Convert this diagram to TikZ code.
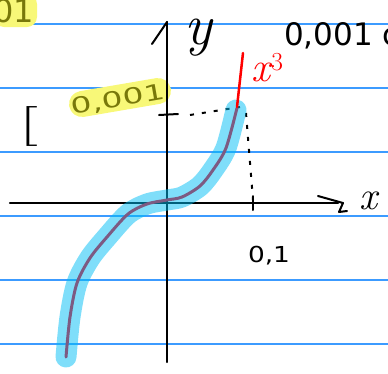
\documentclass[tikz,border=0pt]{standalone}
\usepackage{fontspec}
\newfontfamily\printfont{DejaVu Sans}
\newfontfamily\handfont{DejaVu Sans}
\definecolor{rulecol}{RGB}{60,155,255}
\definecolor{markcol}{RGB}{0,190,245}
\definecolor{penpurple}{RGB}{125,90,130}
\definecolor{hilite}{RGB}{248,248,120}
\definecolor{olivepen}{RGB}{120,120,10}

\begin{document}
\begin{tikzpicture}[x=1pt, y=-1pt,
    rule/.style={rulecol, line width=1.4pt},
    axis/.style={black, line width=2.2pt, line cap=round},
    pen/.style={black, line width=2pt, line cap=round, line join=round},
    guide/.style={black, line width=2pt, dash pattern=on 4pt off 8pt},
    hand/.style={inner sep=0pt, font=\handfont\fontsize{22}{22}\selectfont}]
    \useasboundingbox (0,0) rectangle (388,373);
    \clip (0,0) rectangle (388,373);

    % ruled paper
    \foreach \y in {24,88,...,344}
        \draw[rule] (0,\y) -- (388,\y);

    % highlighted notes
    \fill[hilite, rounded corners=10pt] (-6,-6) rectangle (37,27);
    \draw[hilite, line width=26pt, line cap=round] (82,104) -- (158,91);
    \node[hand, olivepen, anchor=base west, font=\handfont\fontsize{32}{32}\selectfont] (topnote) at (-7,22) {01};
    \node[hand, olivepen, rotate=10, xscale=1.5] (small) at (118,100) {0,001};

    % axes
    \coordinate (xl) at (10,203);
    \coordinate (xr) at (338,203);
    \coordinate (yb) at (167,362);
    \coordinate (yt) at (167,22);
    \draw[axis] (xl) -- (xr);
    \draw[axis] (yb) -- (yt);
    \draw[pen] (152,44) -- (yt);
    \draw[pen] (318,196) -- (343,203) -- (339,212) -- (347,211);
    \node[inner sep=0pt, anchor=base, font=\itshape\fontsize{58}{58}\selectfont] (ylab) at (198,44) {y};
    \node[inner sep=0pt, anchor=base west, font=\itshape\fontsize{40}{40}\selectfont] (xlab) at (359,209) {x};

    % ticks and dotted guides
    \draw[pen] (159,115) -- (178,114);
    \draw[pen] (253,196) -- (253,210);
    \draw[guide] (190,115) -- (240,107);
    \draw[guide] (246,113) -- (253,200);
    \node[hand, anchor=base, xscale=1.2] (tenth) at (269,262) {0,1};

    % the cube curve
    \draw[markcol, opacity=0.5, line width=21pt, line cap=round, line join=round]
        plot[smooth, tension=0.5] coordinates {(236,110) (226,148) (213,170) (200,186)
        (182,197) (167,200) (147,204) (128,214) (107,237) (90,258)
        (77,283) (70,317) (66,357)};
    \draw[penpurple, line width=3pt, line cap=round, line join=round]
        plot[smooth, tension=0.5] coordinates {(237,108) (226,148) (213,170) (200,186)
        (182,197) (167,200) (147,204) (128,214) (107,237) (90,258)
        (77,283) (70,317) (66,357)};
    \draw[red, line width=2.5pt, line cap=round] (243,53) -- (237,107);
    \node[inner sep=0pt, anchor=base west, red, font=\itshape\fontsize{42}{42}\selectfont] (cube) at (251,81) {x};
    \node[inner sep=0pt, anchor=base west, red, font=\fontsize{26}{26}\selectfont] (cubeexp) at (271,70) {3};

    % side notes
    \node[inner sep=0pt, xscale=2, font=\fontsize{40}{40}\selectfont] (brk) at (28,126) {[};
    \node[inner sep=0pt, anchor=base west, font=\printfont\fontsize{31}{31}\selectfont] (note) at (284,45) {0,001 c};
\end{tikzpicture}
\end{document}
